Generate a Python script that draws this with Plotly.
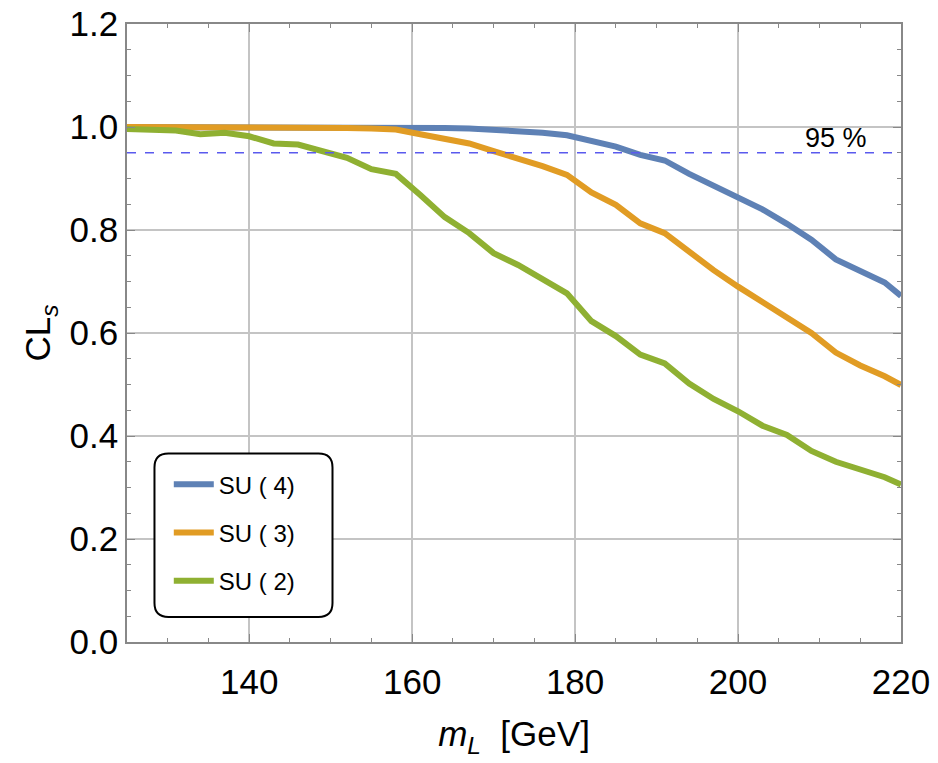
import plotly.graph_objects as go

mass = [125, 128, 131, 134, 137, 140, 143, 146, 149, 152, 155, 158, 161, 164, 167, 170,
        173, 176, 179, 182, 185, 188, 191, 194, 197, 200, 203, 206, 209, 212, 215, 218, 220]

cls_su4 = [1.0, 1.0, 1.0, 1.0, 1.0, 1.0, 1.0, 1.0, 1.0, 1.0, 1.0, 1.0, 0.999, 0.998, 0.997, 0.995,
           0.993, 0.989, 0.984, 0.973, 0.962, 0.946, 0.935, 0.909, 0.886, 0.865, 0.840, 0.812,
           0.781, 0.743, 0.719, 0.698, 0.672]
cls_su3 = [1.0, 1.0, 1.0, 1.0, 1.0, 1.0, 0.999, 0.999, 0.999, 0.998, 0.997, 0.995, 0.986, 0.977,
           0.968, 0.953, 0.940, 0.924, 0.907, 0.873, 0.849, 0.813, 0.794, 0.757, 0.722, 0.690,
           0.661, 0.630, 0.600, 0.562, 0.537, 0.516, 0.499]
cls_su2 = [0.996, 0.995, 0.993, 0.986, 0.989, 0.982, 0.968, 0.966, 0.954, 0.940, 0.918, 0.909,
           0.868, 0.825, 0.794, 0.755, 0.732, 0.703, 0.677, 0.623, 0.594, 0.558, 0.541, 0.502,
           0.472, 0.448, 0.420, 0.402, 0.371, 0.350, 0.336, 0.320, 0.306]

series = [("SU ( 4)", cls_su4, "#5E81B5"),
          ("SU ( 3)", cls_su3, "#E19C24"),
          ("SU ( 2)", cls_su2, "#8FB032")]

threshold = 0.95
x_range = [125, 220]
y_range = [0, 1.2]

FONT = "Liberation Sans, Arial, sans-serif"

fig = go.Figure()
for i, (name, vals, col) in enumerate(series):
    fig.add_trace(go.Scatter(x=mass, y=vals, mode="lines", name=name,
                             legendgroup=f"g{i}",
                             line=dict(color=col, width=6)))

fig.add_shape(type="line", xref="paper", x0=0, x1=1, yref="y", y0=threshold, y1=threshold,
              line=dict(color="#5a5aee", width=1.3, dash="dash"), layer="above")

fig.add_annotation(x=212, y=0.979, text="95 %", showarrow=False,
                   font=dict(family=FONT, size=27, color="black"))

# rounded legend frame (paper coords)
x0, x1, y0, y1, r = 0.0355, 0.2655, 0.0405, 0.305, 0.018
ry = r * 773 / 618
path = (f"M {x0+r},{y0} L {x1-r},{y0} Q {x1},{y0} {x1},{y0+ry} L {x1},{y1-ry} "
        f"Q {x1},{y1} {x1-r},{y1} L {x0+r},{y1} Q {x0},{y1} {x0},{y1-ry} "
        f"L {x0},{y0+ry} Q {x0},{y0} {x0+r},{y0} Z")
fig.add_shape(type="path", path=path, xref="paper", yref="paper",
              line=dict(color="black", width=2), fillcolor="white", layer="above")

axis_common = dict(showline=True, linecolor="#888888", linewidth=1.5, mirror="allticks",
                   ticks="inside", ticklen=8, tickcolor="#888888", tickwidth=1,
                   showgrid=True, gridcolor="#c4c4c4", gridwidth=1.5, zeroline=False,
                   automargin=False,
                   tickfont=dict(family=FONT, size=35, color="black"))

fig.update_xaxes(range=x_range, tick0=140, dtick=20,
                 minor=dict(dtick=5, ticks="inside", ticklen=4, tickcolor="#888888", showgrid=False),
                 ticklabelstandoff=8,
                 title=dict(text="<i>m</i><sub><i>L</i></sub>  [GeV]",
                            font=dict(family=FONT, size=35, color="black"), standoff=22),
                 **axis_common)
fig.update_yaxes(range=y_range, tick0=0, dtick=0.2, tickformat=".1f",
                 minor=dict(dtick=0.05, ticks="inside", ticklen=4, tickcolor="#888888", showgrid=False),
                 ticklabelstandoff=0,
                 title=dict(text="CL<sub><i>s</i></sub>",
                            font=dict(family=FONT, size=35, color="black"), standoff=8),
                 **axis_common)

fig.update_layout(
    width=938, height=763,
    margin=dict(l=127, r=37, t=24, b=121, autoexpand=False),
    paper_bgcolor="white", plot_bgcolor="white",
    showlegend=True,
    legend=dict(x=0.054, y=0.291, xanchor="left", yanchor="top",
                bgcolor="rgba(0,0,0,0)", borderwidth=0, tracegroupgap=14, itemwidth=40,
                font=dict(family=FONT, size=24, color="black")),
)

fig.write_html("out.html")
